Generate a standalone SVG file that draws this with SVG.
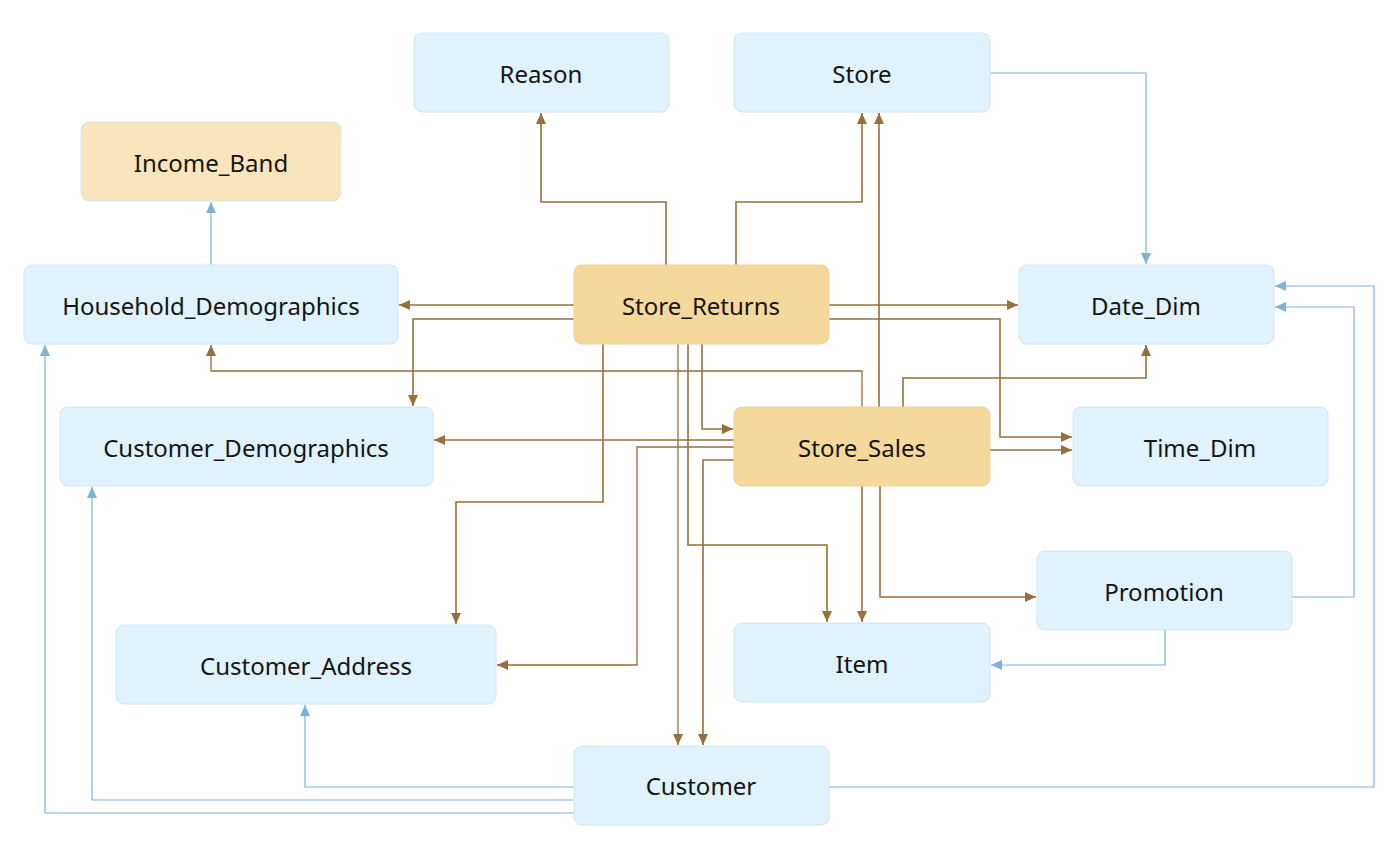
<svg xmlns="http://www.w3.org/2000/svg" width="1400" height="855" viewBox="0 0 1400 855">
<style>
.n rect{fill:#e0f2fb;stroke:#cfe6f1;stroke-width:1}
.f rect{fill:#f5d89b;stroke:#ecd3a0;stroke-width:1}
.ib rect{fill:#f8e5bb;stroke:#d6e7ef;stroke-width:1}
text{font-family:"Noto Sans","Open Sans","Liberation Sans",sans-serif;font-size:24px;fill:#151515;text-anchor:middle;dominant-baseline:central}
.b{fill:none;stroke:#94703a;stroke-width:1.6}
.bt{fill:none;stroke:#94703a;stroke-width:1.3}
.l{fill:none;stroke:#7fb3d5;stroke-width:1.2}
</style>
<defs>
<marker id="ab" markerWidth="12" markerHeight="10" refX="11" refY="5" orient="auto" markerUnits="userSpaceOnUse"><path d="M0,0 L11,5 L0,10 Z" fill="#94703a"/></marker>
<marker id="al" markerWidth="12" markerHeight="10" refX="11" refY="5" orient="auto" markerUnits="userSpaceOnUse"><path d="M0,0 L11,5 L0,10 Z" fill="#7fb3d5"/></marker>
</defs>
<g id="connectors">
<path class="b" d="M666,265 V202 H541 V113" marker-end="url(#ab)"/>
<path class="b" d="M736,265 V202 H862 V113" marker-end="url(#ab)"/>
<path class="b" d="M574,305 H399" marker-end="url(#ab)"/>
<path class="b" d="M574,319 H413 V406" marker-end="url(#ab)"/>
<path class="b" d="M829,305 H1018" marker-end="url(#ab)"/>
<path class="b" d="M829,319 H1000 V437 H1072" marker-end="url(#ab)"/>
<path class="b" d="M603,344 V502 H456 V624" marker-end="url(#ab)"/>
<path class="b" d="M702,344 V429 H733" marker-end="url(#ab)"/>
<path class="bt" d="M678,344 V745" marker-end="url(#ab)"/>
<path class="b" d="M688,344 V545 H827 V622" marker-end="url(#ab)"/>
<path class="b" d="M734,440 H434" marker-end="url(#ab)"/>
<path class="bt" d="M734,447 H637 V665 H497" marker-end="url(#ab)"/>
<path class="b" d="M734,460 H703 V745" marker-end="url(#ab)"/>
<path class="bt" d="M862,407 V371 H211 V345" marker-end="url(#ab)"/>
<path class="b" d="M879,407 V113" marker-end="url(#ab)"/>
<path class="b" d="M903,407 V378 H1146 V345" marker-end="url(#ab)"/>
<path class="b" d="M990,450 H1072" marker-end="url(#ab)"/>
<path class="b" d="M862,486 V622" marker-end="url(#ab)"/>
<path class="b" d="M880,486 V597 H1036" marker-end="url(#ab)"/>
<path class="l" d="M990,73 H1146 V264" marker-end="url(#al)"/>
<path class="l" d="M211,265 V202" marker-end="url(#al)"/>
<path class="l" d="M574,813 H45 V345" marker-end="url(#al)"/>
<path class="l" d="M574,800 H92 V487" marker-end="url(#al)"/>
<path class="l" d="M574,787 H305 V705" marker-end="url(#al)"/>
<path class="l" d="M829,787 H1374 V286 H1275" marker-end="url(#al)"/>
<path class="l" d="M1292,597 H1354 V307 H1275" marker-end="url(#al)"/>
<path class="l" d="M1165,630 V665 H991" marker-end="url(#al)"/>
</g>
<g id="reason" class="n"><rect x="414" y="33" width="255" height="79" rx="8"/><text x="541" y="73">Reason</text></g>
<g id="store" class="n"><rect x="734" y="33" width="256" height="79" rx="8"/><text x="862" y="73">Store</text></g>
<g id="income_band" class="ib"><rect x="81" y="122" width="260" height="79" rx="8"/><text x="211" y="162">Income_Band</text></g>
<g id="household_demographics" class="n"><rect x="24" y="265" width="374" height="79" rx="8"/><text x="211" y="305">Household_Demographics</text></g>
<g id="store_returns" class="f"><rect x="574" y="265" width="255" height="79" rx="8"/><text x="701" y="305">Store_Returns</text></g>
<g id="date_dim" class="n"><rect x="1019" y="265" width="255" height="79" rx="8"/><text x="1146" y="305">Date_Dim</text></g>
<g id="customer_demographics" class="n"><rect x="60" y="407" width="373" height="79" rx="8"/><text x="246" y="447">Customer_Demographics</text></g>
<g id="store_sales" class="f"><rect x="734" y="407" width="256" height="79" rx="8"/><text x="862" y="447">Store_Sales</text></g>
<g id="time_dim" class="n"><rect x="1073" y="407" width="255" height="79" rx="8"/><text x="1200" y="447">Time_Dim</text></g>
<g id="promotion" class="n"><rect x="1037" y="551" width="255" height="79" rx="8"/><text x="1164" y="591">Promotion</text></g>
<g id="customer_address" class="n"><rect x="116" y="625" width="380" height="79" rx="8"/><text x="306" y="665">Customer_Address</text></g>
<g id="item" class="n"><rect x="734" y="623" width="256" height="79" rx="8"/><text x="862" y="663">Item</text></g>
<g id="customer" class="n"><rect x="574" y="746" width="255" height="79" rx="8"/><text x="701" y="785">Customer</text></g>
</svg>
